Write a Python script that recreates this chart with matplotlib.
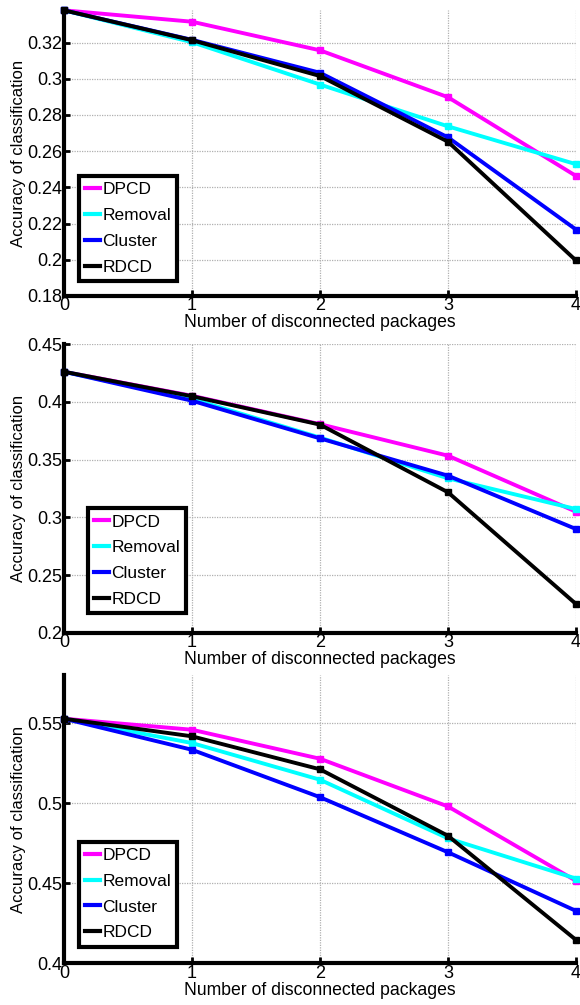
import matplotlib
matplotlib.use("Agg")
import matplotlib.pyplot as plt

plt.rcParams["font.family"] = ["Liberation Sans", "DejaVu Sans"]

x = [0, 1, 2, 3, 4]
names = ["DPCD", "Removal", "Cluster", "RDCD"]
colors = ["#ff00ff", "#00ffff", "#0000ff", "#000000"]

# panel 1
top_dpcd = [0.3378, 0.3315, 0.3157, 0.2898, 0.2463]
top_removal = [0.3378, 0.3202, 0.2968, 0.2737, 0.2528]
top_cluster = [0.3378, 0.3215, 0.3033, 0.2676, 0.2167]
top_rdcd = [0.3378, 0.3213, 0.3015, 0.2652, 0.1996]

# panel 2
mid_dpcd = [0.4260, 0.4052, 0.3806, 0.3533, 0.3048]
mid_removal = [0.4260, 0.4025, 0.3690, 0.3337, 0.3071]
mid_cluster = [0.4260, 0.4009, 0.3683, 0.3360, 0.2898]
mid_rdcd = [0.4260, 0.4048, 0.3802, 0.3216, 0.2249]

# panel 3
bot_dpcd = [0.5527, 0.5458, 0.5277, 0.4979, 0.4515]
bot_removal = [0.5527, 0.5375, 0.5146, 0.4780, 0.4529]
bot_cluster = [0.5527, 0.5333, 0.5037, 0.4693, 0.4327]
bot_rdcd = [0.5527, 0.5417, 0.5211, 0.4796, 0.4146]

top_yticks = [0.18, 0.2, 0.22, 0.24, 0.26, 0.28, 0.3, 0.32]
mid_yticks = [0.2, 0.25, 0.3, 0.35, 0.4, 0.45]
bot_yticks = [0.4, 0.45, 0.5, 0.55]

panels = [
    ([top_dpcd, top_removal, top_cluster, top_rdcd], top_yticks, (0.18, 0.338),
     [0.1103, 0.7055, 0.8828, 0.2846], (0.029, 0.052)),
    ([mid_dpcd, mid_removal, mid_cluster, mid_rdcd], mid_yticks, (0.2, 0.45),
     [0.1103, 0.3704, 0.8828, 0.2873], (0.047, 0.067)),
    ([bot_dpcd, bot_removal, bot_cluster, bot_rdcd], bot_yticks, (0.4, 0.58),
     [0.1103, 0.0415, 0.8828, 0.2869], (0.029, 0.058)),
]

fig = plt.figure(figsize=(5.8, 10.05), dpi=100)

for series, yticks, ylim, rect, legpos in panels:
    ax = fig.add_axes(rect)
    for vals, name, c in zip(series, names, colors):
        ax.plot(x, vals, color=c, lw=2.8, marker="s", ms=4, mec=c, mfc=c,
                label=name, clip_on=False)
    ax.set_xlim(0, 4)
    ax.set_ylim(*ylim)
    ax.set_xticks(x)
    ax.set_xticklabels([str(v) for v in x])
    ax.set_yticks(yticks)
    ax.set_yticklabels([("%g" % t) for t in yticks])
    ax.grid(True, color="#b0b0b0", linestyle=(0, (1, 1)), linewidth=0.9)
    ax.spines["top"].set_visible(False)
    ax.spines["right"].set_visible(False)
    ax.spines["left"].set_linewidth(3)
    ax.spines["bottom"].set_linewidth(3)
    ax.tick_params(direction="in", length=4, width=2, labelsize=13, pad=1)
    ax.set_xlabel("Number of disconnected packages", fontsize=12.7, labelpad=0)
    ax.set_ylabel("Accuracy of classification", fontsize=12, labelpad=1)
    leg = ax.legend(loc="lower left", bbox_to_anchor=legpos, fontsize=12.5,
                    handlelength=0.85, handletextpad=0.15, borderpad=0.35,
                    labelspacing=0.62, fancybox=False, framealpha=1,
                    borderaxespad=0)
    for ln in leg.get_lines():
        ln.set_marker("")
        ln.set_linewidth(3)
    leg.get_frame().set_edgecolor("black")
    leg.get_frame().set_linewidth(3)

fig.savefig("out.png", dpi=100)
